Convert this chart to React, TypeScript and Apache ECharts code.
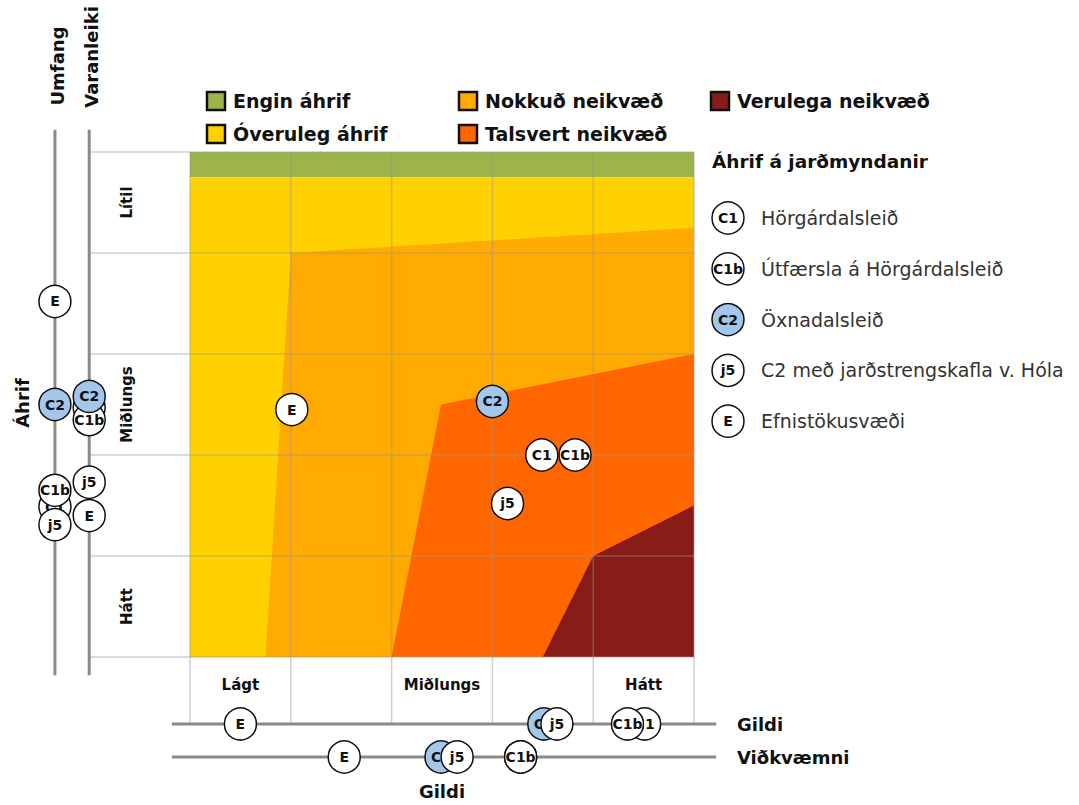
import React, { useEffect, useRef } from "react";
import * as echarts from "echarts";

const FONT = "DejaVu Sans";

// Routes / alternatives (drawing order: later ones on top)
const routes = ["C1", "C1b", "C2", "j5", "E"];
const routeNames = [
  "Hörgárdalsleið",
  "Útfærsla á Hörgárdalsleið",
  "Öxnadalsleið",
  "C2 með jarðstrengskafla v. Hóla",
  "Efnistökusvæði",
];
const routeHighlight = [false, false, true, false, false];
const legendOrder = [0, 1, 2, 3, 4];

// Positions in the impact matrix (x: Gildi/Viðkvæmni, y: Umfang/Varanleiki, 0-5)
const matrixX = [3.49, 3.82, 3.0, 3.15, 1.01];
const matrixY = [2.0, 2.0, 2.53, 1.52, 2.45];
// Side scales
const umfang = [1.49, 1.65, 2.5, 1.31, 3.52];
const varanleiki = [2.47, 2.35, 2.58, 1.73, 1.4];
const gildi = [4.51, 4.34, 3.51, 3.64, 0.5];
const vidkvaemni = [3.28, 3.28, 2.49, 2.65, 1.53];

const xTickLabels = ["Lágt", "", "Miðlungs", "", "Hátt"];
const yTickLabels = ["Hátt", "", "Miðlungs", "", "Lítil"];

const impactLevels = [
  "Engin áhrif",
  "Óveruleg áhrif",
  "Nokkuð neikvæð",
  "Talsvert neikvæð",
  "Verulega neikvæð",
];
const impactColors = ["#9db44b", "#ffd100", "#ffaa00", "#ff6600", "#861b18"];

// Impact zones (polygons in matrix units)
const zoneEngin = [[0, 4.75], [5, 4.75], [5, 5], [0, 5]];
const zoneOveruleg = [[0, 0], [5, 0], [5, 4.75], [0, 4.75]];
const zoneNokkud = [[0.75, 0], [1.0, 4.0], [5, 4.25], [5, 0]];
const zoneTalsvert = [[2.0, 0], [2.49, 2.5], [5, 3.0], [5, 0]];
const zoneVerulega = [[3.5, 0], [4.0, 1.0], [5, 1.5], [5, 0]];
const zones = [zoneEngin, zoneOveruleg, zoneNokkud, zoneTalsvert, zoneVerulega];

// Side axis placement (matrix units)
const AX_UMFANG = -1.34;
const AX_VARAN = -1.0;
const AX_GILDI = -0.663;
const AX_VIDK = -0.99;
const AX_LO = -0.18;
const AX_HI = 5.22;

const GRID_COLOR = "rgba(150,150,150,0.45)";
const AXIS_COLOR = "#8a8a8a";
const BLUE = "#a3c6ea";

export default function App() {
  const ref = useRef<HTMLDivElement>(null);

  useEffect(() => {
    if (!ref.current) return;
    const chart = echarts.init(ref.current, undefined, { renderer: "svg" });

    const zoneSeries = zones.map((zone, i) => ({
      type: "custom",
      name: impactLevels[i],
      xAxisIndex: 0,
      yAxisIndex: 0,
      z: 1,
      silent: true,
      clip: false,
      data: [[0, 0]],
      renderItem: (_p: any, api: any) => ({
        type: "polygon",
        shape: { points: zone.map((pt) => api.coord(pt)) },
        style: { fill: impactColors[i] },
      }),
    }));

    const frameSeries = {
      type: "custom",
      z: 3,
      silent: true,
      clip: false,
      data: [[0, 0]],
      renderItem: (_p: any, api: any) => {
        const children: any[] = [];
        const ln = (a: number[], b: number[], stroke: string, w: number) => {
          const p1 = api.coord(a);
          const p2 = api.coord(b);
          children.push({
            type: "line",
            shape: { x1: p1[0], y1: p1[1], x2: p2[0], y2: p2[1] },
            style: { stroke, lineWidth: w },
          });
        };
        for (let k = 0; k <= 5; k++) {
          ln([k, AX_GILDI], [k, 5], GRID_COLOR, 1.5);
          ln([AX_VARAN, k], [5, k], GRID_COLOR, 1.5);
        }
        ln([AX_UMFANG, AX_LO], [AX_UMFANG, AX_HI], AXIS_COLOR, 3);
        ln([AX_VARAN, AX_LO], [AX_VARAN, AX_HI], AXIS_COLOR, 3);
        ln([AX_LO, AX_GILDI], [AX_HI, AX_GILDI], AXIS_COLOR, 3);
        ln([AX_LO, AX_VIDK], [AX_HI, AX_VIDK], AXIS_COLOR, 3);
        return { type: "group", children };
      },
    };

    // one scatter series per route, stacked by z so a covering circle hides the label below
    const pointSeries = routes.map((r, i) => ({
      type: "scatter",
      name: r,
      symbol: "circle",
      symbolSize: 32,
      z: 5 + i,
      clip: false,
      itemStyle: {
        color: routeHighlight[i] ? BLUE : "#ffffff",
        borderColor: "#111",
        borderWidth: 1.5,
        opacity: 1,
      },
      label: {
        show: true,
        position: "inside",
        formatter: r,
        color: "#111",
        fontFamily: FONT,
        fontWeight: "bold",
        fontSize: 14,
      },
      emphasis: { disabled: true },
      data: [
        [matrixX[i], matrixY[i]],
        [AX_UMFANG, umfang[i]],
        [AX_VARAN, varanleiki[i]],
        [gildi[i], AX_GILDI],
        [vidkvaemni[i], AX_VIDK],
      ],
    }));

    const bold = (size: number) => ({
      fontFamily: FONT,
      fontWeight: "bold",
      fontSize: size,
      fill: "#111",
    });

    const graphic: any[] = [];
    // Top legend of impact levels
    impactLevels.forEach((lvl, i) => {
      const col = Math.floor(i / 2);
      const row = i % 2;
      const x = 207 + col * 252;
      const y = 101 + row * 33;
      graphic.push({
        type: "rect",
        shape: { x: x, y: y - 9, width: 18, height: 18 },
        style: { fill: impactColors[i], stroke: "#111", lineWidth: 2.5 },
      });
      graphic.push({
        type: "text",
        x: x + 26,
        y: y,
        style: { ...bold(19), text: lvl, align: "left", verticalAlign: "middle" },
      });
    });
    // Right legend
    graphic.push({
      type: "text",
      x: 712,
      y: 161,
      style: { ...bold(18.5), text: "Áhrif á jarðmyndanir", align: "left", verticalAlign: "middle" },
    });
    legendOrder.forEach((idx, k) => {
      const y = 218 + k * 50.8;
      graphic.push({
        type: "circle",
        shape: { cx: 728, cy: y, r: 16 },
        style: { fill: routeHighlight[idx] ? BLUE : "#fff", stroke: "#111", lineWidth: 1.5 },
      });
      graphic.push({
        type: "text",
        x: 728,
        y: y,
        style: { ...bold(14), text: routes[idx], align: "center", verticalAlign: "middle" },
      });
      graphic.push({
        type: "text",
        x: 761,
        y: y,
        style: {
          text: routeNames[idx],
          fontFamily: FONT,
          fontSize: 19,
          fill: "#333",
          align: "left",
          verticalAlign: "middle",
        },
      });
    });
    // Axis titles
    graphic.push({
      type: "text",
      x: 57,
      y: 66,
      rotation: Math.PI / 2,
      style: { ...bold(18), text: "Umfang", align: "center", verticalAlign: "middle" },
    });
    graphic.push({
      type: "text",
      x: 91,
      y: 57,
      rotation: Math.PI / 2,
      style: { ...bold(18), text: "Varanleiki", align: "center", verticalAlign: "middle" },
    });
    graphic.push({
      type: "text",
      x: 22,
      y: 403,
      rotation: Math.PI / 2,
      style: { ...bold(18), text: "Áhrif", align: "center", verticalAlign: "middle" },
    });
    graphic.push({
      type: "text",
      x: 737,
      y: 724,
      style: { ...bold(18), text: "Gildi", align: "left", verticalAlign: "middle" },
    });
    graphic.push({
      type: "text",
      x: 737,
      y: 757,
      style: { ...bold(18), text: "Viðkvæmni", align: "left", verticalAlign: "middle" },
    });
    graphic.push({
      type: "text",
      x: 442,
      y: 791,
      style: { ...bold(18), text: "Gildi", align: "center", verticalAlign: "middle" },
    });

    chart.setOption({
      animation: false,
      backgroundColor: "#ffffff",
      grid: { left: 190, top: 152, width: 504, height: 505, containLabel: false },
      xAxis: [
        { type: "value", min: 0, max: 5, interval: 1, show: false },
        {
          type: "category",
          data: xTickLabels,
          position: "bottom",
          boundaryGap: true,
          axisLine: { show: false },
          axisTick: { show: false },
          splitLine: { show: false },
          axisLabel: {
            interval: 0,
            margin: 20,
            color: "#111",
            fontFamily: FONT,
            fontWeight: "bold",
            fontSize: 15,
          },
        },
      ],
      yAxis: [
        { type: "value", min: 0, max: 5, interval: 1, show: false },
        {
          type: "category",
          data: yTickLabels,
          position: "left",
          boundaryGap: true,
          axisLine: { show: false },
          axisTick: { show: false },
          splitLine: { show: false },
          axisLabel: {
            interval: 0,
            rotate: 90,
            margin: 56,
            color: "#111",
            fontFamily: FONT,
            fontWeight: "bold",
            fontSize: 15,
          },
        },
      ],
      series: [...zoneSeries, frameSeries, ...pointSeries],
      graphic,
    });

    return () => chart.dispose();
  }, []);

  return (
    <div
      ref={ref}
      style={{ position: "fixed", left: 0, top: 0, width: 1079, height: 805, background: "#fff" }}
    />
  );
}
